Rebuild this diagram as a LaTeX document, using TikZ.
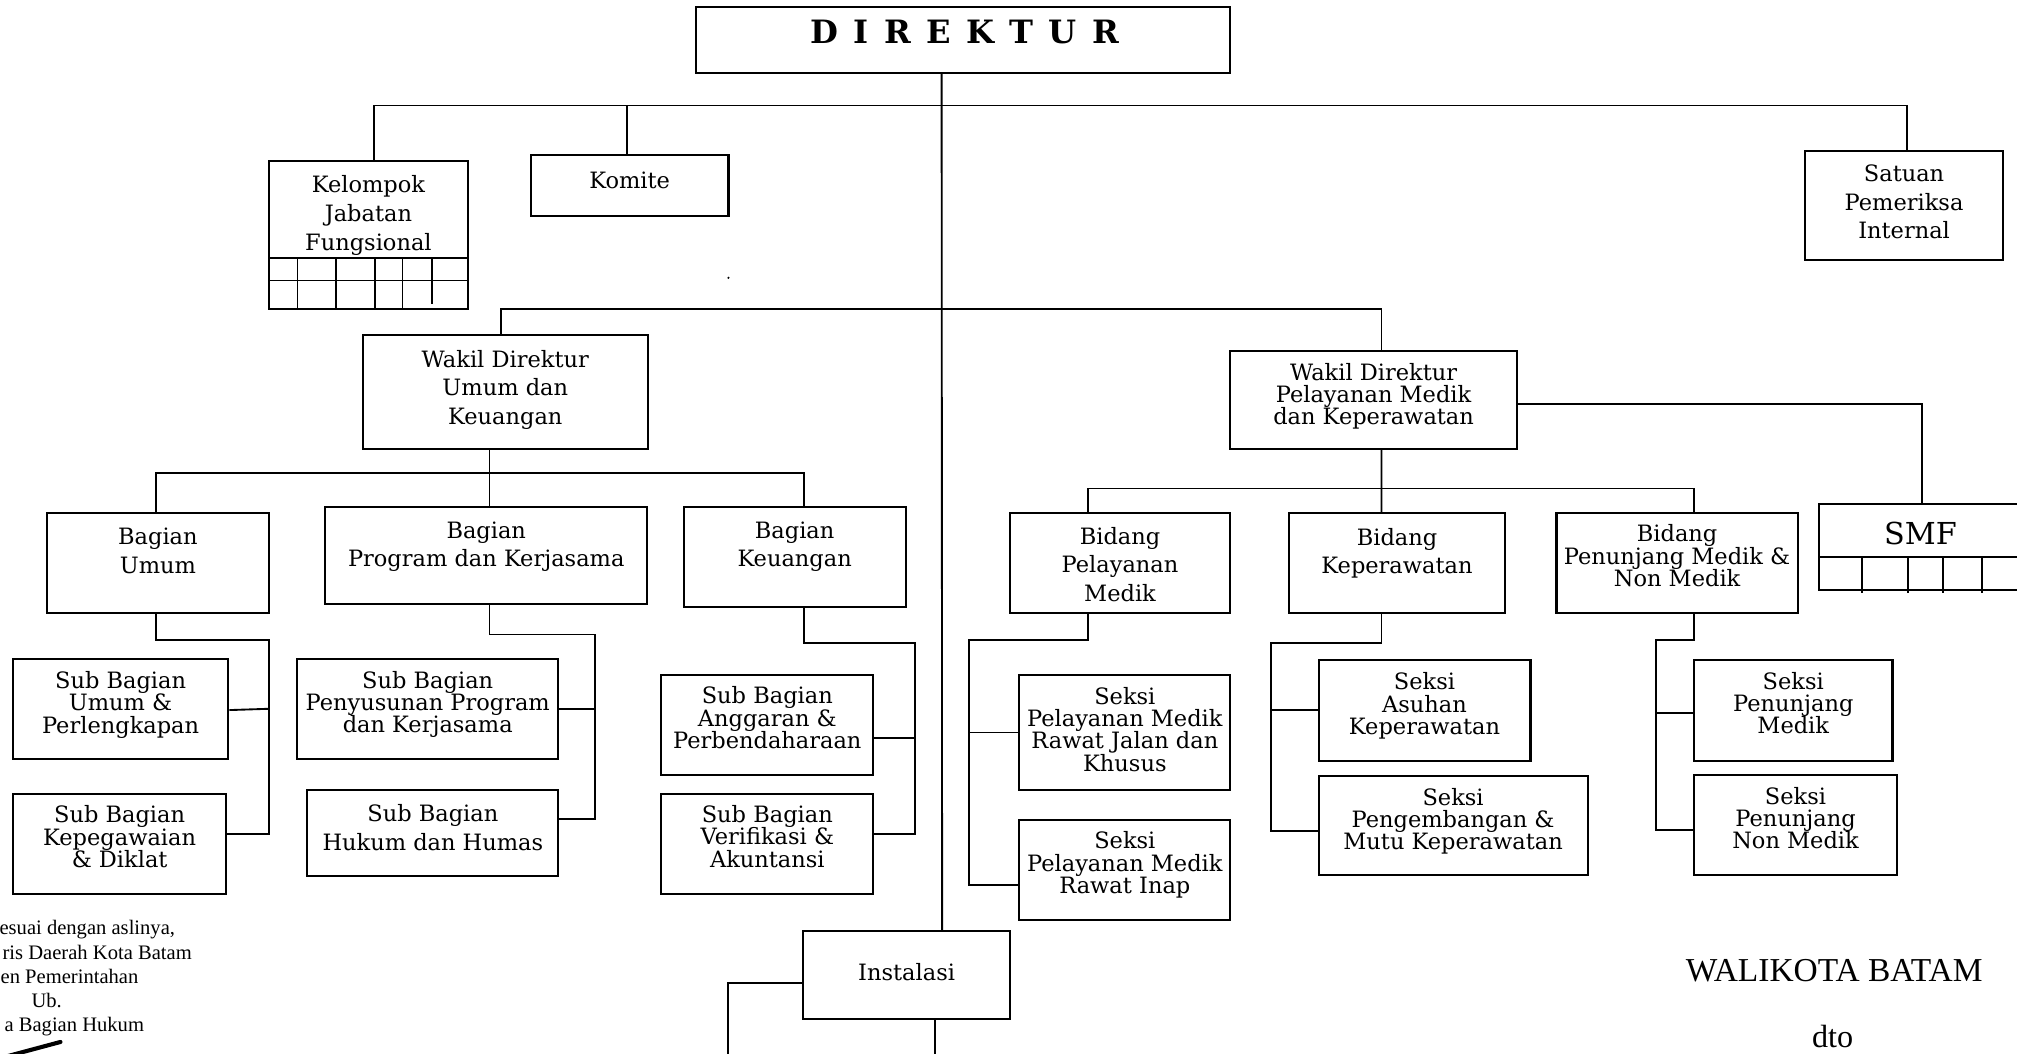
\documentclass[tikz,border=0pt]{standalone}
\usepackage{fontspec}
\setmainfont{DejaVu Serif}
\newfontfamily\timesfont{Liberation Serif}

\tikzset{every picture/.style={line width=1.45pt}}
\tikzset{
  orgbox/.style={draw, rectangle, line width=1.6pt, inner sep=0pt},
  orgtext/.style={align=center, inner sep=0pt, font=\fontsize{17.5}{22.3}\selectfont},
  orgtight/.style={align=center, inner sep=0pt, font=\fontsize{17.5}{17.3}\selectfont},
  foottext/.style={inner sep=0pt, font=\timesfont\fontsize{16}{18.8}\selectfont},
}

\begin{document}
\begin{tikzpicture}[x=1pt,y=1pt,yscale=-1,xscale=1]
  \useasboundingbox (0,0) rectangle (1568,819);

  %Shape: Rectangle (top level)
  \node[orgbox, minimum width=415.6pt, minimum height=51.2pt] (dir) at (748.6,30.9) {};
  \node[orgbox, minimum width=154.2pt, minimum height=115.2pt] (kel) at (286.4,182.4) {};
  \node[orgbox, minimum width=153.7pt, minimum height=47.3pt] (kom) at (489.45,144.05) {};
  \node[orgbox, minimum width=154.4pt, minimum height=84.9pt] (spi) at (1480.2,159.95) {};
  %Shape: Rectangle (wakil direktur)
  \node[orgbox, minimum width=221.8pt, minimum height=88.8pt] (wdu) at (392.8,304.6) {};
  \node[orgbox, minimum width=222.8pt, minimum height=76.5pt] (wdm) at (1067.8,310.75) {};
  \node[orgbox, minimum width=166.3pt, minimum height=67.1pt] (smf) at (1496.85,425.15) {};
  %Shape: Rectangle (bagian)
  \node[orgbox, minimum width=172.5pt, minimum height=77.7pt] (bum) at (122.75,437.55) {};
  \node[orgbox, minimum width=250pt, minimum height=75.9pt] (bpk) at (378,431.85) {};
  \node[orgbox, minimum width=172.5pt, minimum height=78.1pt] (bku) at (617.75,432.95) {};
  %Shape: Rectangle (sub bagian)
  \node[orgbox, minimum width=167.5pt, minimum height=78pt] (sbu) at (93.75,551) {};
  \node[orgbox, minimum width=166pt, minimum height=78pt] (sbk) at (93,656.2) {};
  \node[orgbox, minimum width=203pt, minimum height=78pt] (sbp) at (332.5,551) {};
  \node[orgbox, minimum width=195pt, minimum height=66.6pt] (sbh) at (336.5,647.7) {};
  \node[orgbox, minimum width=165pt, minimum height=78pt] (sba) at (596.5,563.5) {};
  \node[orgbox, minimum width=165pt, minimum height=78pt] (sbv) at (596.5,656.2) {};
  %Shape: Rectangle (bidang)
  \node[orgbox, minimum width=171.4pt, minimum height=77.7pt] (bpm) at (870.7,437.55) {};
  \node[orgbox, minimum width=168.4pt, minimum height=77.7pt] (bkp) at (1086,437.55) {};
  \node[orgbox, minimum width=187.5pt, minimum height=77.7pt] (bpn) at (1303.75,437.55) {};
  %Shape: Rectangle (seksi)
  \node[orgbox, minimum width=163.9pt, minimum height=89.9pt] (srj) at (874.45,569.45) {};
  \node[orgbox, minimum width=163.9pt, minimum height=77.5pt] (sri) at (874.45,676.45) {};
  \node[orgbox, minimum width=164.8pt, minimum height=78.4pt] (sak) at (1107.4,552.2) {};
  \node[orgbox, minimum width=209.2pt, minimum height=77.4pt] (spm) at (1129.6,641.7) {};
  \node[orgbox, minimum width=154.3pt, minimum height=78.4pt] (spd) at (1394.05,552.2) {};
  \node[orgbox, minimum width=157.8pt, minimum height=78.1pt] (snm) at (1395.8,641.35) {};
  \node[orgbox, minimum width=160.6pt, minimum height=68.4pt] (ins) at (704.8,757.9) {};

  %Shape: Grid (jabatan fungsional)
  \draw (209.3,200.3) -- (363.5,200.3);
  \draw (209.3,218.1) -- (363.5,218.1);
  \foreach \gx in {231.3,260.9,291.4,312.9}
    \draw (\gx,200.3) -- (\gx,240);
  \draw (335.5,200.3) -- (335.5,236.5);
  %Shape: Grid (smf)
  \draw (1413.7,432.7) -- (1580,432.7);
  \foreach \gx in {1447.2,1483,1510.2,1540.7}
    \draw (\gx,432.7) -- (\gx,461);

  %Junctions
  \coordinate (j-top) at (732,82);
  \coordinate (j-mid) at (732,240);
  \coordinate (j-bag) at (380.5,368);
  \coordinate (j-bid) at (1074,379.8);
  \coordinate (r-um) at (209,497.5);
  \coordinate (r-pk) at (462.5,493.2);
  \coordinate (r-ku) at (711,499.8);
  \coordinate (l-pm) at (753,497.5);
  \coordinate (l-kp) at (988.1,499.8);
  \coordinate (l-pn) at (1287.6,497.4);
  \coordinate (ins-l) at (566.2,830);
  \coordinate (ins-b) at (726.8,830);

  %Straight Lines (direktur)
  \draw (dir.south -| j-top) -- ([xshift=27.6pt]ins.north);
  \draw ([xshift=4.6pt]kel.north) |- (j-top) -| ([xshift=2.5pt]spi.north);
  \draw ([xshift=-2.25pt]kom.north) |- (j-top);
  \draw ([xshift=-3.3pt]wdu.north) |- (j-mid) -| ([xshift=6.1pt]wdm.north);
  %Straight Lines (umum dan keuangan)
  \draw ([xshift=-12.3pt]wdu.south) -- ([xshift=2.5pt]bpk.north);
  \draw ([xshift=-1.5pt]bum.north) |- (j-bag) -| ([xshift=7.15pt]bku.north);
  \draw ([xshift=-1.75pt]bum.south) |- (r-um) |- ([yshift=-7.8pt]sbk.east);
  \draw ([yshift=1pt]sbu.east) -- (sbu.east -| r-um);
  \draw ([xshift=2.5pt]bpk.south) |- (r-pk) |- ([yshift=-10.8pt]sbh.east);
  \draw (sbp.east) -- (sbp.east -| r-pk);
  \draw ([xshift=7.15pt]bku.south) |- (r-ku) |- ([yshift=-7.8pt]sbv.east);
  \coordinate (sba-c) at ([yshift=10.3pt]sba.east);
  \draw (sba-c) -- (sba-c -| r-ku);
  %Straight Lines (pelayanan medik dan keperawatan)
  \draw ([yshift=3.25pt]wdm.east) -| ([xshift=-3.05pt]smf.north);
  \draw ([xshift=6.1pt]wdm.south) -- ([xshift=-12.1pt]bkp.north);
  \draw ([xshift=-25.2pt]bpm.north) |- (j-bid) -| ([xshift=13.15pt]bpn.north);
  \draw ([xshift=-25.2pt]bpm.south) |- (l-pm) |- ([yshift=11.75pt]sri.west);
  \draw (srj.west) -- (srj.west -| l-pm);
  \draw ([xshift=-12.1pt]bkp.south) |- (l-kp) |- ([yshift=4pt]spm.west);
  \draw (sak.west) -- (sak.west -| l-kp);
  \draw ([xshift=13.15pt]bpn.south) |- (l-pn) |- ([yshift=3.65pt]snm.west);
  \coordinate (spd-c) at ([yshift=2.1pt]spd.west);
  \draw (spd-c) -- (spd-c -| l-pn);
  %Straight Lines (instalasi)
  \draw ([yshift=6.4pt]ins.west) -| (ins-l);
  \draw ([xshift=22pt]ins.south) -- (ins-b);

  %Shape: Circle (stray dot)
  \fill (566.3,216) circle (0.9);
  %Shape: Signature stroke
  \draw[line width=3.2pt, line cap=round] (6,821) -- (47,810);

  % Text Node
  \node[inner sep=0pt, font=\bfseries\fontsize{25}{25}\selectfont] (t-dir) at (750,25) {\spaceskip=12pt\relax D I R E K T U R};
  % Text Node
  \node[orgtext] (t-kel) at (286.4,167.4) {Kelompok\\Jabatan\\Fungsional};
  \node[orgtext] (t-kom) at (489.45,140.5) {Komite};
  \node[orgtext] (t-spi) at (1480.2,157) {Satuan\\Pemeriksa\\Internal};
  \node[orgtext] (t-wdu) at (392.8,303) {Wakil Direktur\\Umum dan\\Keuangan};
  \node[orgtight] (t-wdm) at (1067.8,308) {Wakil Direktur\\Pelayanan Medik\\dan Keperawatan};
  \node[inner sep=0pt, font=\fontsize{23.5}{23.5}\selectfont] (t-smf) at (1493,414.7) {SMF};
  % Text Node
  \node[orgtext] (t-bum) at (122.75,428) {Bagian\\Umum};
  \node[orgtext] (t-bpk) at (378,425) {Bagian\\Program dan Kerjasama};
  \node[orgtext] (t-bku) at (617.75,425) {Bagian\\Keuangan};
  \node[orgtight] (t-sbu) at (93.75,548) {Sub Bagian\\Umum \&\\Perlengkapan};
  \node[orgtight] (t-sbk) at (93,650.5) {Sub Bagian\\Kepegawaian\\\& Diklat};
  \node[orgtight] (t-sbp) at (332.5,547.7) {Sub Bagian\\Penyusunan Program\\dan Kerjasama};
  \node[orgtext] (t-sbh) at (336.5,643.5) {Sub Bagian\\Hukum dan Humas};
  \node[orgtight] (t-sba) at (596.5,558) {Sub Bagian\\Anggaran \&\\Perbendaharaan};
  \node[orgtight] (t-sbv) at (596.5,650.3) {Sub Bagian\\Verifikasi \&\\Akuntansi};
  % Text Node
  \node[orgtext] (t-bpm) at (870.7,438.7) {Bidang\\Pelayanan\\Medik};
  \node[orgtext] (t-bkp) at (1086,430) {Bidang\\Keperawatan};
  \node[orgtight] (t-bpn) at (1303.75,432) {Bidang\\Penunjang Medik \&\\Non Medik};
  \node[orgtight] (t-srj) at (874.45,567) {Seksi\\Pelayanan Medik\\Rawat Jalan dan\\Khusus};
  \node[orgtight] (t-sri) at (874.45,672.3) {Seksi\\Pelayanan Medik\\Rawat Inap};
  \node[orgtight] (t-sak) at (1107.4,548.7) {Seksi\\Asuhan\\Keperawatan};
  \node[orgtight] (t-spm) at (1129.6,638.4) {Seksi\\Pengembangan \&\\Mutu Keperawatan};
  \node[orgtight] (t-spd) at (1394.05,546.7) {Seksi\\Penunjang\\Medik};
  \node[orgtight] (t-snm) at (1395.8,635.8) {Seksi\\Penunjang\\Non Medik};
  \node[orgtext] (t-ins) at (704.8,756) {Instalasi};

  % Text Node (footer)
  \node[foottext, anchor=base east] (f1) at (136.8,726.8) {esuai dengan aslinya,};
  \node[foottext, anchor=base east] (f2) at (149.8,745.6) {ris Daerah Kota Batam};
  \node[foottext, anchor=base east] (f3) at (108.3,764.4) {en Pemerintahan};
  \node[foottext, anchor=base] (f4) at (36.3,783.2) {Ub.};
  \node[foottext, anchor=base east] (f5) at (112.7,802) {a Bagian Hukum};
  \node[inner sep=0pt, anchor=base west, font=\timesfont\fontsize{26}{26}\selectfont] (wali) at (1309.9,763.1) {WALIKOTA BATAM};
  \node[inner sep=0pt, anchor=base west, font=\timesfont\fontsize{25}{25}\selectfont] (dto) at (1408,814) {dto};
\end{tikzpicture}
\end{document}
